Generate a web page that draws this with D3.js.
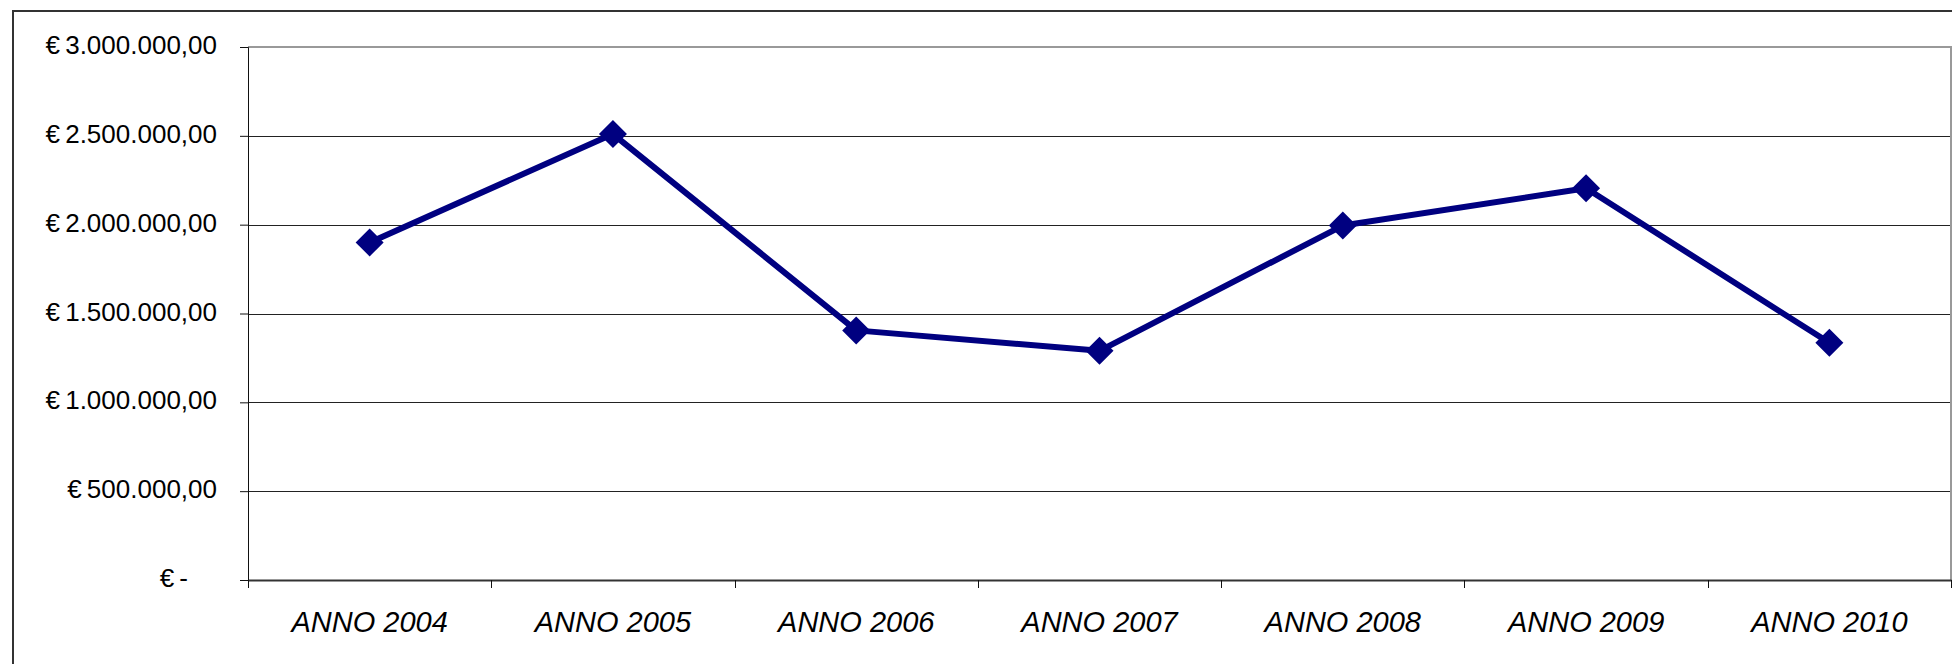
<!DOCTYPE html>
<html>
<head>
<meta charset="utf-8">
<script src="https://cdn.jsdelivr.net/npm/d3@7"></script>
<style>
  body { margin: 0; background: #fff; }
  svg { display: block; font-family: "Liberation Sans", Arial, sans-serif; }
</style>
</head>
<body>
<div class="chart"></div>
<script>
// Chart data
var categories = ["ANNO 2004", "ANNO 2005", "ANNO 2006", "ANNO 2007", "ANNO 2008", "ANNO 2009", "ANNO 2010"];
var values = [1900000, 2510000, 1405000, 1290000, 1995000, 2205000, 1335000];
var yTicks = [0, 500000, 1000000, 1500000, 2000000, 2500000, 3000000];

// Create svg canvas and margins
var svgWidth = 1952;
var svgHeight = 664;

var margin = {
    top: 47,
    bottom: 84,
    left: 248,
    right: 1
};
var width = svgWidth - margin.left - margin.right;
var height = svgHeight - margin.top - margin.bottom;

var svg = d3.select(".chart")
            .append("svg")
            .attr("width", svgWidth)
            .attr("height", svgHeight);

// Outer chart frame (only left and top edges are visible)
svg.append("path")
   .attr("d", "M13,664 V11 H1952")
   .attr("fill", "none")
   .attr("stroke", "#333")
   .attr("stroke-width", 2);

var chartGroup = svg.append("g")
                    .attr("transform", `translate(${margin.left}, ${margin.top})`);

// Scales
var xScale = d3.scaleBand()
               .domain(categories)
               .range([0, width])
               .padding(0);
var yScale = d3.scaleLinear()
               .domain([0, 3000000])
               .range([height, 0]);

// Euro formatting, Italian style
var locale = d3.formatLocale({
    decimal: ",",
    thousands: ".",
    grouping: [3],
    currency: ["€\u2009", ""]
});
var euro = locale.format("$,.2f");

// Gridlines
chartGroup.append("g")
          .selectAll("line")
          .data(yTicks.slice(1, -1))
          .enter()
          .append("line")
          .attr("x1", 0)
          .attr("x2", width)
          .attr("y1", d => Math.round(yScale(d)) + 0.5)
          .attr("y2", d => Math.round(yScale(d)) + 0.5)
          .attr("stroke", "#222")
          .attr("stroke-width", 1);

// Plot area border (top and right)
chartGroup.append("path")
          .attr("d", `M0,${yScale(3000000)} H${width} V${height}`)
          .attr("fill", "none")
          .attr("stroke", "#999")
          .attr("stroke-width", 2);

// Y axis
var leftAxis = d3.axisLeft(yScale)
                 .tickValues(yTicks)
                 .tickSize(8)
                 .tickPadding(23)
                 .tickFormat(d => d === 0 ? "€\u2009-" : euro(d));
var yAxisG = chartGroup.append("g").call(leftAxis);
yAxisG.select(".domain").attr("stroke", "#111");
yAxisG.selectAll(".tick line").attr("stroke", "#111");
yAxisG.selectAll(".tick text")
      .attr("font-size", 26)
      .attr("fill", "#000")
      .attr("dy", "0.25em")
      .attr("dx", d => d === 0 ? -29 : 0);

// X axis with ticks at category boundaries
var bottomAxis = d3.axisBottom(xScale).tickSize(0).tickPadding(31);
var xAxisG = chartGroup.append("g")
                       .attr("transform", `translate(0, ${height})`)
                       .call(bottomAxis);
xAxisG.select(".domain").attr("stroke", "#333").attr("stroke-width", 2);
xAxisG.selectAll(".tick text")
      .attr("font-size", 29)
      .attr("font-style", "italic")
      .attr("fill", "#000");

var bounds = categories.map(c => xScale(c)).concat([width]);
xAxisG.selectAll(".bound")
      .data(bounds)
      .enter()
      .append("line")
      .attr("class", "bound")
      .attr("x1", d => Math.round(d) + 0.5)
      .attr("x2", d => Math.round(d) + 0.5)
      .attr("y1", 0)
      .attr("y2", 8)
      .attr("stroke", "#111");

// Line
var line = d3.line()
             .x((d, i) => xScale(categories[i]) + xScale.bandwidth() / 2)
             .y(d => yScale(d));

chartGroup.append("path")
          .datum(values)
          .attr("d", line)
          .attr("fill", "none")
          .attr("stroke", "#000080")
          .attr("stroke-width", 6)
          .attr("stroke-linejoin", "round");

// Diamond markers
var r = 14;
chartGroup.selectAll(".marker")
          .data(values)
          .enter()
          .append("path")
          .attr("class", "marker")
          .attr("transform", (d, i) => `translate(${xScale(categories[i]) + xScale.bandwidth() / 2}, ${yScale(d)})`)
          .attr("d", `M0,${-r} L${r},0 L0,${r} L${-r},0 Z`)
          .attr("fill", "#000080");
</script>
</body>
</html>
